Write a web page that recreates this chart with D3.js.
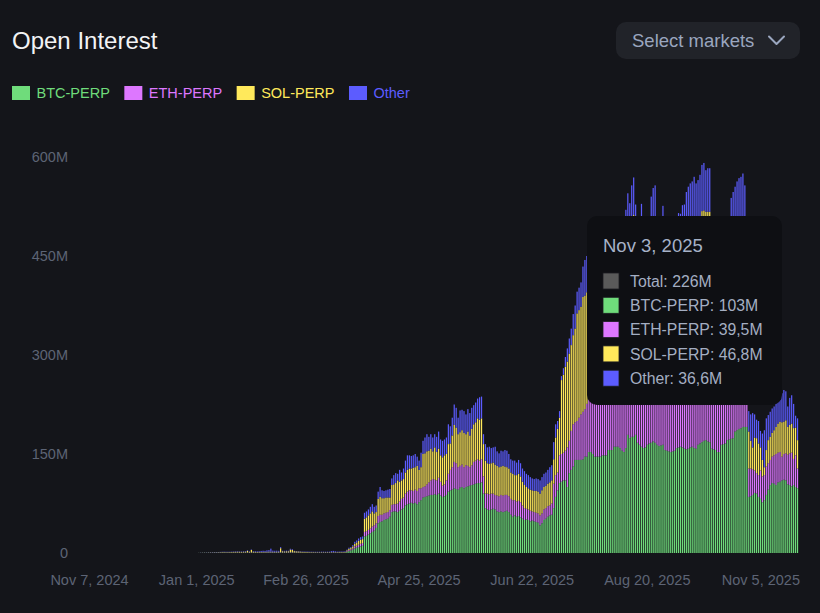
<!DOCTYPE html>
<html>
<head>
<meta charset="utf-8">
<script src="https://cdn.jsdelivr.net/npm/d3@7/dist/d3.min.js"></script>
<style>
html,body{margin:0;padding:0;background:#14151a;}
svg{display:block;font-family:"Liberation Sans",Arial,sans-serif;}
</style>
</head>
<body>
<svg id="chart" width="820" height="613"></svg>
<script>
// ---------- DATA ----------
const startDate = "2024-11-07";
const endDate = "2025-11-05";
const seriesNames = ["BTC-PERP", "ETH-PERP", "SOL-PERP", "Other"];
const seriesColors = ["#6fdc7b", "#dd77ff", "#ffe95b", "#5c5cff"];

// values in millions, one per day from Nov 7, 2024 to Nov 5, 2025
const btc = [
0,0,0,0,0,0,0,0,0,0, 0,0,0,0,0,0,0,0,0,0, 0,0,0,0,0,0,0,0,0,0,
0,0,0,0,0,0,0,0,0,0, 0,0,0,0,0,0,0,0,0,0, 0,0,0,0,0,0,
0.1,0.2,0.2,0.3,0.2,0.3,0.3,0.3,0.4,0.4,
0.4,0.4,0.5,0.5,0.5,0.4,0.5,0.5,0.5,0.6,
0.6,0.5,0.5,0.6,0.6,0.6,0.5,0.5,0.5,0.6,
0.5,0.6,0.6,0.7,0.6,0.7,0.8,0.8,0.7,0.7,
0.8,0.7,0.8,0.7,0.7,0.6,0.7,0.7,0.7,0.6,
0.6,0.5,0.5,0.5,0.5,0.5,0.5,0.4,0.4,0.4,
0.4,0.4,0.4,0.4,0.4,0.4,0.4,0.4,0.4,0.4,
0.4,0.4,0.5,0.5,0.5,0.6,1.5,3,4,5,
7,8,9,10,11,
25,26,28,30,32,34,38,45,47,48,
50,51,52,55,62,63,63,62,64,66,
68,72,74,75,76,75,76,74,77,80,
84,85,86,87,88,88,89,88,90,87,
85,86,88,93,95,96,98,97,96,99,
100,98,100,101,102,103,104,105,106,106,
107,90,68,66,65,66,67,66,63,62,
63,62,63,64,62,58,55,57,55,56,
54,52,50,51,50,48,49,48,47,46,
42,45,50,52,55,57,58,68,85,95,
106,108,110,110,100,121,126,131,141,141,
141,141,142,146,
146,153,153,150,146,146,146,146,148,148,
148,156,156,156,161,161,161,159,155,153,
159,179,174,176,176,179,167,164,161,159,
160,164,166,167,169,167,164,162,163,164,
156,155,154,153,154,155,159,160,161,160,
158,157,158,160,161,159,158,164,166,168,
170,171,169,168,158,157,156,153,153,164,
165,166,171,172,173,174,184,186,188,189,
191,191,191,
85,86,88,91,90,85,82,77,80,88,
96,103,106,105,103,107,108,110,111,110,
104,103,101,103,100,98
];
const eth = [
0,0,0,0,0,0,0,0,0,0, 0,0,0,0,0,0,0,0,0,0, 0,0,0,0,0,0,0,0,0,0,
0,0,0,0,0,0,0,0,0,0, 0,0,0,0,0,0,0,0,0,0, 0,0,0,0,0,0,
0,0.1,0.1,0.1,0.1,0.1,0.2,0.2,0.2,0.2,
0.2,0.3,0.3,0.3,0.3,0.3,0.3,0.3,0.4,0.4,
0.4,0.3,0.4,0.4,0.4,0.4,0.4,0.4,0.3,0.4,
0.4,0.5,0.4,0.4,0.5,0.5,0.5,0.6,0.5,0.5,
0.5,0.5,0.5,0.4,0.5,0.4,0.5,0.5,0.5,0.4,
0.4,0.4,0.4,0.3,0.3,0.3,0.3,0.3,0.3,0.3,
0.3,0.3,0.3,0.3,0.3,0.3,0.3,0.3,0.3,0.3,
0.3,0.3,0.3,0.3,0.3,0.4,1,1.5,1.5,2,
3,3,3.5,4,4,
7,7,7,7,8,8,7,11,11,10,
10,10,10,10,11,11,11,13,14,16,
16,18,19,20,19,19,20,20,21,18,
16,16,18,20,22,24,22,22,24,21,
17,18,22,27,31,34,40,39,34,33,
34,32,33,31,28,30,34,35,36,34,
35,26,22,24,24,24,23,22,24,24,
25,25,25,24,24,24,25,23,23,23,
23,20,18,16,16,16,14,14,14,14,
15,15,16,16,16,15,17,37,33,27,
42,42,42,45,60,49,59,64,57,59,
64,69,72,72,
80,85,88,90,92,95,98,100,104,108,
110,112,115,118,120,122,125,128,130,132,
135,138,140,142,145,143,140,140,142,140,
138,138,140,145,148,150,146,144,145,148,
144,140,138,136,138,140,142,145,146,148,
150,152,154,156,158,160,158,160,162,165,
166,164,163,162,155,152,150,148,146,145,
144,142,140,138,138,136,134,132,130,128,
126,124,120,
43,42,39,34,31,33,43,39,38,43,
40,38,40,43,47,45,45,36,39,41,
45,48,51,39.5,48,30
];
const sol = [
0,0,0,0,0,0,0,0,0,0, 0,0,0,0,0,0,0,0,0,0, 0,0,0,0,0,0,0,0,0,0,
0,0,0,0,0,0,0,0,0,0, 0,0,0,0,0,0,0,0,0,0, 0,0,0,0,0,0,
0.1,0.1,0.2,0.2,0.2,0.3,0.3,0.3,0.4,0.4,
0.5,0.5,0.6,0.6,0.5,0.6,0.6,0.7,0.8,0.8,
0.9,1.0,0.8,0.9,1.0,2.2,0.9,3.8,1.2,0.8,
0.6,0.7,0.5,0.5,0.6,0.6,0.7,0.6,0.6,0.6,
0.7,0.8,6.0,1.5,1.2,1.6,1.4,4.0,3.6,1.8,
1.5,1.4,1.2,0.9,0.8,0.8,0.7,0.6,0.6,0.6,
0.5,0.5,0.5,0.5,0.5,0.5,0.5,0.5,0.5,0.5,
0.5,0.5,0.6,0.6,0.6,0.7,1.5,2,2,3,
4,5,6,6,6,
20,21,22,23,23,18,17,26,27,25,
23,23,22,19,30,30,32,35,30,28,
28,32,33,33,33,35,34,38,28,32,
50,50,50,48,48,42,49,43,44,40,
43,44,40,45,40,48,56,54,50,51,
52,52,47,52,48,55,57,58,62,62,
62,49,50,46,46,46,47,46,45,44,
43,45,43,42,42,40,40,38,40,41,
39,36,35,33,32,32,32,32,33,33,
33,35,34,34,34,35,35,37,57,66,
57,112,118,127,130,132,130,135,142,163,
163,163,174,172,
169,167,168,174,173,174,173,174,170,169,
169,162,161,160,154,154,153,148,153,157,
168,168,158,181,191,148,126,134,168,143,
135,126,134,168,174,178,125,125,132,154,
137,137,136,134,140,147,145,150,147,158,
158,175,179,180,179,185,179,175,177,185,
183,182,185,187,125,125,124,124,121,120,
125,130,132,135,163,172,171,178,182,185,
188,176,134,
56,42,33,50,53,48,35,25,12,25,
35,35,36,38,41,44,46,52,49,50,
42,43,44,46.8,42,43
];
const other = [
0,0,0,0,0,0,0,0,0,0, 0,0,0,0,0,0,0,0,0,0, 0,0,0,0,0,0,0,0,0,0,
0,0,0,0,0,0,0,0,0,0, 0,0,0,0,0,0,0,0,0,0, 0,0,0,0,0,0,
0.1,0.2,0.2,0.2,0.3,0.3,0.3,0.4,0.4,0.5,
0.4,0.5,0.5,0.6,0.6,0.6,0.5,0.6,0.6,0.7,
0.7,0.6,0.6,0.7,0.8,0.8,0.7,0.6,0.8,0.9,
1.0,0.9,1.6,1.8,1.5,2.2,2.4,4.6,1.8,1.6,
1.5,1.3,1.6,0.8,0.9,1.0,0.8,1.2,1.0,0.6,
0.5,0.5,0.6,0.6,0.7,0.6,0.7,0.7,0.7,0.6,
0.7,0.7,0.7,0.8,0.8,0.7,0.8,0.8,1.6,2.0,
1.4,0.9,0.8,0.9,0.9,0.9,1,1.5,1.5,2,
3,3,3.5,4,4,
9,9,9,10,11,10,10,11,15,12,
11,11,12,13,10,14,15,10,18,12,
16,18,22,20,19,19,20,14,14,22,
20,24,26,21,22,21,20,23,26,24,
25,24,25,30,26,27,31,30,25,33,
31,33,30,34,34,32,29,30,30,34,
33,15,25,24,26,23,23,27,22,21,
24,22,25,25,22,20,20,22,19,21,
20,20,21,20,20,19,18,18,19,19,
20,20,20,20,21,23,23,26,20,12,
10,6,10,15,20,23,25,32,35,33,
34,37,46,54,
55,55,56,56,57,57,58,58,58,59,
59,60,60,60,61,61,61,60,60,60,
58,60,58,58,57,58,57,57,58,58,
57,57,58,60,62,62,60,59,60,60,
58,58,57,57,58,58,59,60,60,61,
62,63,64,64,65,66,65,66,68,70,
72,63,66,66,62,61,60,60,60,61,
61,62,62,63,64,65,66,67,68,68,
70,66,60,
31,40,52,35,28,34,25,40,56,48,
38,38,37,36,36,34,33,44,48,44,
31,41,43,36.6,18,33
];

const yTicks = [0, 150, 300, 450, 600];
const xTickDates = ["2024-11-07", "2025-01-01", "2025-02-26", "2025-04-25", "2025-06-22", "2025-08-20", "2025-11-05"];
const tooltipDate = "2025-11-03";

// ---------- BUILD ----------
const parse = d3.timeParse("%Y-%m-%d");
const fmtKey = d3.timeFormat("%Y-%m-%d");
const fmtLabel = d3.timeFormat("%b %-d, %Y");
const days = d3.timeDay.range(parse(startDate), d3.timeDay.offset(parse(endDate), 1));
const keys = days.map(fmtKey);
const seriesData = [btc, eth, sol, other];
const table = keys.map((k, i) => {
  const row = {key: k};
  seriesNames.forEach((s, j) => row[s] = seriesData[j][i] || 0);
  return row;
});

const svg = d3.select("#chart");
svg.append("rect").attr("width", 820).attr("height", 613).attr("fill", "#14151a");

const x = d3.scaleBand().domain(keys).range([88.5, 798.5]).paddingInner(0.38).paddingOuter(0.19);
const y = d3.scaleLinear().domain([0, 600]).range([553, 157]);
const color = d3.scaleOrdinal().domain(seriesNames).range(seriesColors);

// title
svg.append("text").attr("x", 12).attr("y", 49).attr("fill", "#f2f3f5")
  .attr("font-size", 24).text("Open Interest");

// select markets button
const btn = svg.append("g");
btn.append("rect").attr("x", 616).attr("y", 22).attr("width", 184).attr("height", 37).attr("rx", 10)
  .attr("fill", "#212329");
btn.append("text").attr("x", 632).attr("y", 47).attr("fill", "#9aa6bf").attr("font-size", 18.5)
  .text("Select markets");
btn.append("path").attr("d", "M769,36.5 L776.5,44 L784,36.5").attr("fill", "none")
  .attr("stroke", "#9aa6bf").attr("stroke-width", 2).attr("stroke-linecap", "round").attr("stroke-linejoin", "round");

// legend
const legend = svg.append("g");
let lx = 12;
seriesNames.forEach((s) => {
  const g = legend.append("g");
  g.append("rect").attr("x", lx).attr("y", 86).attr("width", 18).attr("height", 14).attr("fill", color(s));
  const t = g.append("text").attr("x", lx + 24.5).attr("y", 97.5).attr("fill", color(s))
    .attr("font-size", 14.5).text(s);
  lx = lx + 24.5 + t.node().getComputedTextLength() + 14.5;
});

// y axis
const yAxis = svg.append("g").attr("transform", "translate(68,0)")
  .call(d3.axisLeft(y).tickValues(yTicks).tickSize(0).tickPadding(0)
    .tickFormat(d => d === 0 ? "0" : d + "M"));
yAxis.select(".domain").remove();
yAxis.selectAll("text").attr("fill", "#5d6475").attr("font-size", 14.5)
  .attr("font-family", "Liberation Sans, Arial, sans-serif");

// x axis
const xAxis = svg.append("g").attr("transform", "translate(0,575)")
  .call(d3.axisBottom(x).tickValues(xTickDates).tickSize(0).tickPadding(0)
    .tickFormat(d => fmtLabel(parse(d))));
xAxis.select(".domain").remove();
xAxis.selectAll("text").attr("fill", "#5d6475").attr("font-size", 14.5)
  .attr("font-family", "Liberation Sans, Arial, sans-serif")
  .attr("text-anchor", (d, i, n) => i === n.length - 1 ? "end" : "middle")
  .attr("dx", (d, i, n) => i === n.length - 1 ? (800 - x(d) - x.bandwidth() / 2) : 0);

// bars
const stacked = d3.stack().keys(seriesNames)(table);
svg.append("g").selectAll("g").data(stacked).join("g")
  .attr("fill", d => color(d.key))
  .selectAll("rect").data(d => d).join("rect")
  .attr("x", d => x(d.data.key))
  .attr("width", x.bandwidth())
  .attr("y", d => y(d[1]))
  .attr("height", d => Math.max(0, y(d[0]) - y(d[1])));

// tooltip
const ti = keys.indexOf(tooltipDate);
const vals = seriesData.map(s => s[ti]);
const total = d3.sum(vals);
const fmtM = v => d3.format(".3~r")(v).replace(".", ",") + "M";
const tip = svg.append("g");
tip.append("rect").attr("x", 587).attr("y", 216).attr("width", 195).attr("height", 189).attr("rx", 10)
  .attr("fill", "#0e0f13");
tip.append("text").attr("x", 603).attr("y", 251.5).attr("fill", "#a6b2c8").attr("font-size", 18.5)
  .text(fmtLabel(parse(tooltipDate)));
const items = [{name: "Total", v: total, c: "#5a5a5a"}]
  .concat(seriesNames.map((s, j) => ({name: s, v: vals[j], c: color(s)})));
items.forEach((it, i) => {
  const cy = 281 + i * 24.3;
  tip.append("rect").attr("x", 603).attr("y", cy - 8).attr("width", 16).attr("height", 16)
    .attr("fill", it.c).attr("stroke", "#1c1d22").attr("stroke-width", 0.8);
  tip.append("text").attr("x", 630).attr("y", cy + 5.6).attr("fill", "#a4aec2").attr("font-size", 15.8)
    .text(it.name + ": " + fmtM(it.v));
});
</script>
</body>
</html>
